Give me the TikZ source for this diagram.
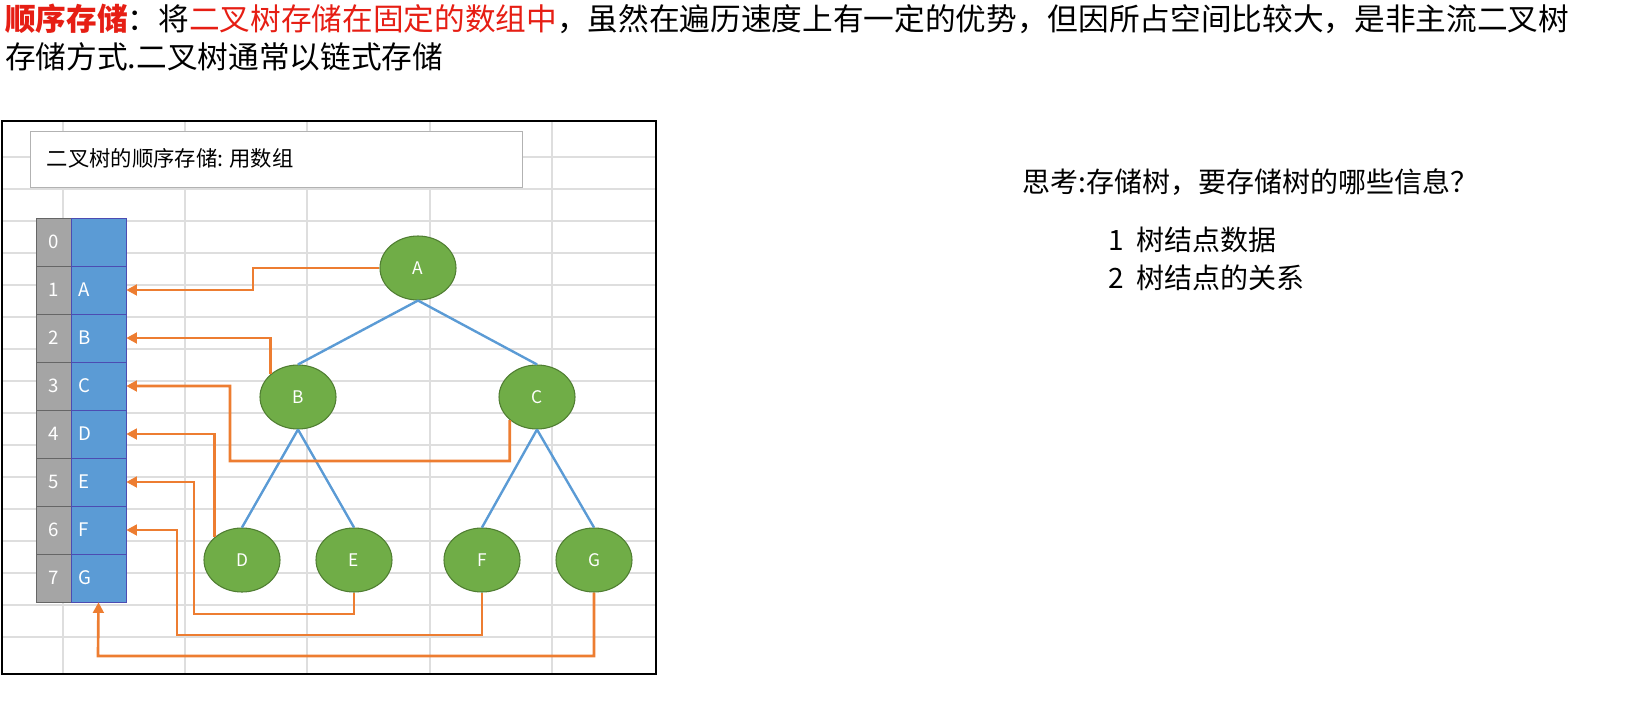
\documentclass[tikz,border=0pt]{standalone}
\usepackage{fontspec}
\setmainfont{Noto Sans CJK SC}
\usetikzlibrary{shapes.geometric,arrows.meta}
\definecolor{hred}{RGB}{230,30,20}
\definecolor{tgreen}{RGB}{112,173,71}
\definecolor{tgreenD}{RGB}{80,126,50}
\definecolor{tblue}{RGB}{91,155,213}
\definecolor{torange}{RGB}{237,125,49}
\definecolor{tgray}{RGB}{165,165,165}
\definecolor{gridc}{RGB}{222,222,222}
\tikzset{
  tnode/.style={ellipse,fill=tgreen,draw=tgreenD,line width=0.8pt,minimum width=57pt,minimum height=48pt,text=white,font=\fontsize{13}{15}\selectfont},
  edge/.style={draw=tblue,line width=1.8pt},
  ptr/.style={draw=torange,line width=2pt,-{Triangle[length=8pt,width=8pt]}},
  idx/.style={rectangle,fill=tgray,draw=gray!80!black,minimum width=26.25pt,minimum height=36pt,text=white,inner sep=0pt,font=\fontsize{14}{16}\selectfont},
  val/.style={rectangle,fill=tblue,draw=blue!40!gray,minimum width=41.25pt,minimum height=36pt,text=white,inner sep=0pt,font=\fontsize{14}{16}\selectfont,text width=30pt,align=left},
  hdr/.style={anchor=base west,inner sep=0pt,font=\fontsize{23}{27}\selectfont},
  side/.style={anchor=base west,inner sep=0pt,font=\fontsize{21}{25}\selectfont}
}
\begin{document}
\begin{tikzpicture}[x=0.75pt,y=-0.75pt]
% header
\node[hdr] (h1) at (5,30) {\textcolor{hred}{\bfseries 顺序存储}：将\textcolor{hred}{二叉树存储在固定的数组中}，虽然在遍历速度上有一定的优势，但因所占空间比较大，是非主流二叉树};
\node[hdr] (h2) at (5,68) {存储方式.二叉树通常以链式存储};
% right text
\node[side] (q) at (1022,192) {思考:存储树，要存储树的哪些信息？};
\node[side] (q1) at (1108,250) {1\ \ 树结点数据};
\node[side] (q2) at (1108,288) {2\ \ 树结点的关系};
% frame & grid
\begin{scope}
\clip (2,121) rectangle (656,674);
\foreach \x in {63,185,307,430,552} \draw[gridc,line width=1pt] (\x,121) -- (\x,674);
\foreach \k in {0,...,15} \draw[gridc,line width=1pt] (2,{157+32*\k}) -- (656,{157+32*\k});
\end{scope}
\draw[line width=1.2pt] (2,121) rectangle (656,674);
\node[draw=gray!60,fill=white,minimum width=369pt,minimum height=42pt,anchor=north west,inner sep=0pt] (tb) at (30,131) {};
\node[anchor=west,font=\fontsize{16}{19}\selectfont] (tt) at (42,158) {二叉树的顺序存储: 用数组};
% array
\foreach \i/\v in {0/,1/A,2/B,3/C,4/D,5/E,6/F,7/G}{
  \node[idx] (i\i) at (53.5,{242+48*\i}) {\i};
  \node[val] (v\i) at (98.5,{242+48*\i}) {\v};
}
% tree
\node[tnode] (A) at (418,268) {A};
\node[tnode] (B) at (298,397) {B};
\node[tnode] (C) at (537,397) {C};
\node[tnode] (D) at (242,560) {D};
\node[tnode] (E) at (354,560) {E};
\node[tnode] (F) at (482,560) {F};
\node[tnode] (G) at (594,560) {G};
\draw[edge] (A.south) -- (B.north);
\draw[edge] (A.south) -- (C.north);
\draw[edge] (B.south) -- (D.north);
\draw[edge] (B.south) -- (E.north);
\draw[edge] (C.south) -- (F.north);
\draw[edge] (C.south) -- (G.north);
% pointers
\draw[ptr] (A.west) -- (253,268) -- (253,290) -- (v1.east);
\draw[ptr] (B.north west) |- (v2.east);
\draw[ptr] (C.south west) -- ++(0,41) -- (230,461) |- (v3.east);
\draw[ptr] (D.north west) |- (v4.east);
\draw[ptr] (E.south) -- (354,614) -- (194,614) |- (v5.east);
\draw[ptr] (F.south) -- (482,635) -- (177,635) |- (v6.east);
\draw[ptr] (G.south) -- (594,656) -- (98,656) -- (v7.south);
\pgfresetboundingbox
\path[use as bounding box] (0,0) rectangle (1636,707);
\end{tikzpicture}
\end{document}
